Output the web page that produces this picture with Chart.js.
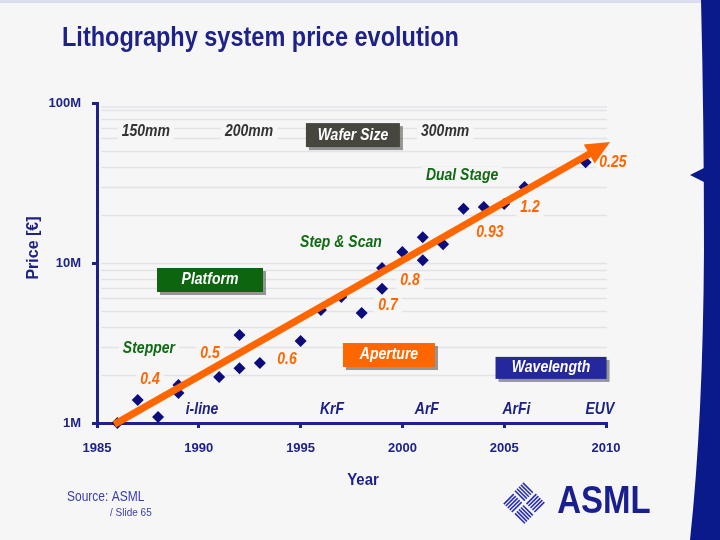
<!DOCTYPE html>
<html>
<head>
<meta charset="utf-8">
<script src="https://cdn.jsdelivr.net/npm/chart.js@4.4.0/dist/chart.umd.min.js"></script>
<style>
html, body { margin: 0; padding: 0; background: #f6f6f7; }
#wrap { width: 720px; height: 540px; }
</style>
</head>
<body>
<div id="wrap"><canvas id="priceChart" width="720" height="540"></canvas></div>
<script>
// system prices (million euro) per year of introduction
const years   = [1986, 1987, 1988, 1989, 1989, 1991, 1992, 1992, 1993, 1995, 1996, 1997, 1998, 1999, 1999, 2000, 2001, 2001, 2002, 2003, 2004, 2005, 2006, 2009];
const pricesM = [1.0, 1.39, 1.09, 1.73, 1.54, 1.94, 3.55, 2.2, 2.37, 3.25, 5.08, 6.13, 4.87, 6.9, 9.3, 11.7, 10.4, 14.5, 13.1, 21.8, 22.4, 23.4, 29.9, 42.7];

// orange trend arrow
const trendYears   = [1985.85, 2010.2];
const trendPricesM = [0.98, 57];

const yTickValues = [1, 10, 100];
const yTickLabels = ['1M', '10M', '100M'];
const xTickStep = 5;

const navy = '#1e2288';
const orange = '#ff6600';
const green = '#0f6a12';
const bg = '#f6f6f7';
const FONT = '"Liberation Sans", Arial, sans-serif';

// annotations placed in data coordinates (year, million euro)
const notes = [
    { text: '150mm', x: 1987.4, y: 66, color: '#333333' },
    { text: '200mm', x: 1992.47, y: 66, color: '#333333' },
    { text: '300mm', x: 2002.1, y: 66, color: '#333333' },
    { text: 'Dual Stage', x: 2002.93, y: 35, color: green },
    { text: 'Step & Scan', x: 1996.98, y: 13.5, color: green },
    { text: 'Stepper', x: 1987.55, y: 2.94, color: green },
    { text: 'i-line', x: 1990.16, y: 1.22, color: navy },
    { text: 'KrF', x: 1996.54, y: 1.22, color: navy },
    { text: 'ArF', x: 2001.2, y: 1.22, color: navy },
    { text: 'ArFi', x: 2005.6, y: 1.22, color: navy },
    { text: 'EUV', x: 2009.7, y: 1.22, color: navy },
    { text: '0.4', x: 1987.6, y: 1.86, color: orange },
    { text: '0.5', x: 1990.55, y: 2.70, color: orange },
    { text: '0.6', x: 1994.33, y: 2.48, color: orange },
    { text: '0.7', x: 1999.29, y: 5.39, color: orange },
    { text: '0.8', x: 2000.37, y: 7.72, color: orange },
    { text: '0.93', x: 2004.3, y: 15.4, color: orange },
    { text: '1.2', x: 2006.27, y: 22.1, color: orange },
    { text: '0.25', x: 2010.34, y: 42.2, color: orange }
];

const boxes = [
    { text: 'Wafer Size', x: 1997.57, y: 63, w: 94, h: 24, fill: '#46463f' },
    { text: 'Platform', x: 1990.55, y: 7.83, w: 106, h: 24, fill: '#0d650f' },
    { text: 'Aperture', x: 1999.34, y: 2.66, w: 92, h: 24, fill: orange },
    { text: 'Wavelength', x: 2007.3, y: 2.21, w: 111, h: 22, fill: '#24289a' }
];

function stretchText(ctx, text, x, y, font, color, align) {
    ctx.save();
    ctx.translate(x, y);
    ctx.scale(1, 1.15);
    ctx.font = font;
    ctx.fillStyle = color;
    ctx.textAlign = align || 'center';
    ctx.textBaseline = 'middle';
    ctx.fillText(text, 0, 0);
    ctx.restore();
}

function drawLogo(ctx, cx, cy) {
    ctx.save();
    ctx.translate(cx, cy);
    ctx.rotate(Math.PI / 4);
    ctx.strokeStyle = '#2a2fb0';
    ctx.lineWidth = 1.6;
    const s = 14;
    [[-1, -1, 0], [1, -1, 1], [1, 1, 0], [-1, 1, 1]].forEach(([qx, qy, vert]) => {
        const x0 = qx < 0 ? -s - 1 : 1;
        const y0 = qy < 0 ? -s - 1 : 1;
        for (let i = 0; i < 5; i++) {
            const o = 1.5 + i * 2.8;
            ctx.beginPath();
            if (vert) {
                ctx.moveTo(x0 + o, y0);
                ctx.lineTo(x0 + o, y0 + s);
            } else {
                ctx.moveTo(x0, y0 + o);
                ctx.lineTo(x0 + s, y0 + o);
            }
            ctx.stroke();
        }
    });
    ctx.restore();
}

const slideDecor = {
    id: 'slideDecor',
    beforeDraw(chart) {
        const ctx = chart.ctx;
        const xs = chart.scales.x, ys = chart.scales.y;
        const area = chart.chartArea;
        ctx.save();
        ctx.fillStyle = bg;
        ctx.fillRect(0, 0, chart.width, chart.height);
        ctx.fillStyle = '#dcdcef';
        ctx.fillRect(0, 0, 702, 3);

        // right hand blue band
        ctx.fillStyle = '#0b1a8a';
        ctx.beginPath();
        ctx.moveTo(701, 0);
        ctx.quadraticCurveTo(704, 120, 704, 250);
        ctx.quadraticCurveTo(703, 420, 690, 540);
        ctx.lineTo(720, 540);
        ctx.lineTo(720, 0);
        ctx.closePath();
        ctx.fill();
        ctx.beginPath();
        ctx.moveTo(704, 168);
        ctx.lineTo(690, 175);
        ctx.lineTo(704, 182);
        ctx.closePath();
        ctx.fill();

        // title
        stretchText(ctx, 'Lithography system price evolution', 62, 39, 'bold 23.5px ' + FONT, navy, 'left');

        // faint log grid
        ctx.strokeStyle = '#e3e3e6';
        ctx.lineWidth = 1.5;
        for (let dec = 1; dec < 100; dec *= 10) {
            for (let m = 1; m <= 9; m++) {
                const py = Math.round(ys.getPixelForValue(dec * m * 1e6)) + 0.5;
                ctx.beginPath();
                ctx.moveTo(area.left + 4, py);
                ctx.lineTo(area.right + 1, py);
                ctx.stroke();
            }
        }
        const py = ys.getPixelForValue(1e8) + 4;
        ctx.beginPath();
        ctx.moveTo(area.left + 4, py);
        ctx.lineTo(area.right + 1, py);
        ctx.stroke();

        // text annotations with a backing patch over the grid
        notes.forEach(n => {
            const px = xs.getPixelForValue(n.x), ny = ys.getPixelForValue(n.y * 1e6);
            const f = 'italic bold 14px ' + FONT;
            ctx.font = f;
            const w = ctx.measureText(n.text).width;
            ctx.fillStyle = bg;
            ctx.fillRect(px - w / 2 - 4, ny - 9, w + 8, 18);
            stretchText(ctx, n.text, px, ny, f, n.color);
        });

        boxes.forEach(b => {
            const px = xs.getPixelForValue(b.x), by = ys.getPixelForValue(b.y * 1e6);
            ctx.fillStyle = 'rgba(70,70,70,0.55)';
            ctx.fillRect(px - b.w / 2 + 3, by - b.h / 2 + 3, b.w, b.h);
            ctx.fillStyle = b.fill;
            ctx.fillRect(px - b.w / 2, by - b.h / 2, b.w, b.h);
            stretchText(ctx, b.text, px, by, 'italic bold 14px ' + FONT, '#ffffff');
        });

        // axis titles and footer
        stretchText(ctx, 'Year', 363, 480, 'bold 15px ' + FONT, navy);
        ctx.save();
        ctx.translate(34, 248);
        ctx.rotate(-Math.PI / 2);
        ctx.font = 'bold 16px ' + FONT;
        ctx.fillStyle = navy;
        ctx.textAlign = 'center';
        ctx.textBaseline = 'middle';
        ctx.fillText('Price [€]', 0, 0);
        ctx.restore();

        stretchText(ctx, 'Source: ASML', 67, 497, '12px ' + FONT, '#3a3ea8', 'left');
        stretchText(ctx, '/ Slide 65', 110, 513, '10px ' + FONT, '#3a3ea8', 'left');

        drawLogo(ctx, 524, 503);
        stretchText(ctx, 'ASML', 604, 503, 'bold 33px ' + FONT, '#1a1f8e');
        ctx.restore();
    },
    afterDatasetsDraw(chart) {
        const ctx = chart.ctx;
        const xs = chart.scales.x, ys = chart.scales.y;
        const x0 = xs.getPixelForValue(trendYears[0]), y0 = ys.getPixelForValue(trendPricesM[0] * 1e6);
        const x1 = xs.getPixelForValue(trendYears[1]), y1 = ys.getPixelForValue(trendPricesM[1] * 1e6);
        const ang = Math.atan2(y1 - y0, x1 - x0);
        const c = Math.cos(ang), s = Math.sin(ang);
        const head = 24, half = 11;
        const bx = x1 - head * c, by = y1 - head * s;
        ctx.save();
        ctx.strokeStyle = orange;
        ctx.lineWidth = 7;
        ctx.beginPath();
        ctx.moveTo(x0, y0);
        ctx.lineTo(bx + 2 * c, by + 2 * s);
        ctx.stroke();
        ctx.fillStyle = orange;
        ctx.beginPath();
        ctx.moveTo(x1, y1);
        ctx.lineTo(bx - half * s, by + half * c);
        ctx.lineTo(bx + half * s, by - half * c);
        ctx.closePath();
        ctx.fill();
        ctx.restore();
    }
};

const ctx = document.getElementById('priceChart').getContext('2d');
const priceChart = new Chart(ctx, {
    type: 'scatter',
    plugins: [slideDecor],
    data: {
        datasets: [{
            label: 'System price',
            data: years.map((y, i) => ({ x: y, y: pricesM[i] * 1e6 })),
            pointStyle: 'rectRot',
            pointRadius: 6,
            backgroundColor: '#0c0c7c',
            borderColor: '#0c0c7c',
            borderWidth: 0,
            clip: false
        }]
    },
    options: {
        responsive: false,
        animation: false,
        layout: { padding: { top: 103, right: 114, left: 0, bottom: 0 } },
        plugins: {
            legend: { display: false },
            tooltip: { enabled: false },
            title: { display: false }
        },
        scales: {
            x: {
                type: 'linear',
                min: 1985,
                max: 2010,
                afterFit: s => { s.height = 117; },
                grid: { drawOnChartArea: false, drawTicks: true, tickLength: 5, color: navy, lineWidth: 3 },
                border: { color: navy, width: 3 },
                ticks: {
                    stepSize: xTickStep,
                    padding: 13,
                    color: navy,
                    font: { family: FONT, size: 13, weight: 'bold' },
                    callback: v => String(v)
                }
            },
            y: {
                type: 'logarithmic',
                min: 1e6,
                max: 1e8,
                afterFit: s => { s.width = 97; },
                afterBuildTicks: s => { s.ticks = yTickValues.map(v => ({ value: v * 1e6 })); },
                grid: { drawOnChartArea: false, drawTicks: true, tickLength: 5, color: navy, lineWidth: 3 },
                border: { color: navy, width: 3 },
                ticks: {
                    padding: 11,
                    color: navy,
                    font: { family: FONT, size: 13, weight: 'bold' },
                    callback: v => yTickLabels[yTickValues.indexOf(Math.round(v / 1e6))]
                }
            }
        }
    }
});
</script>
</body>
</html>
